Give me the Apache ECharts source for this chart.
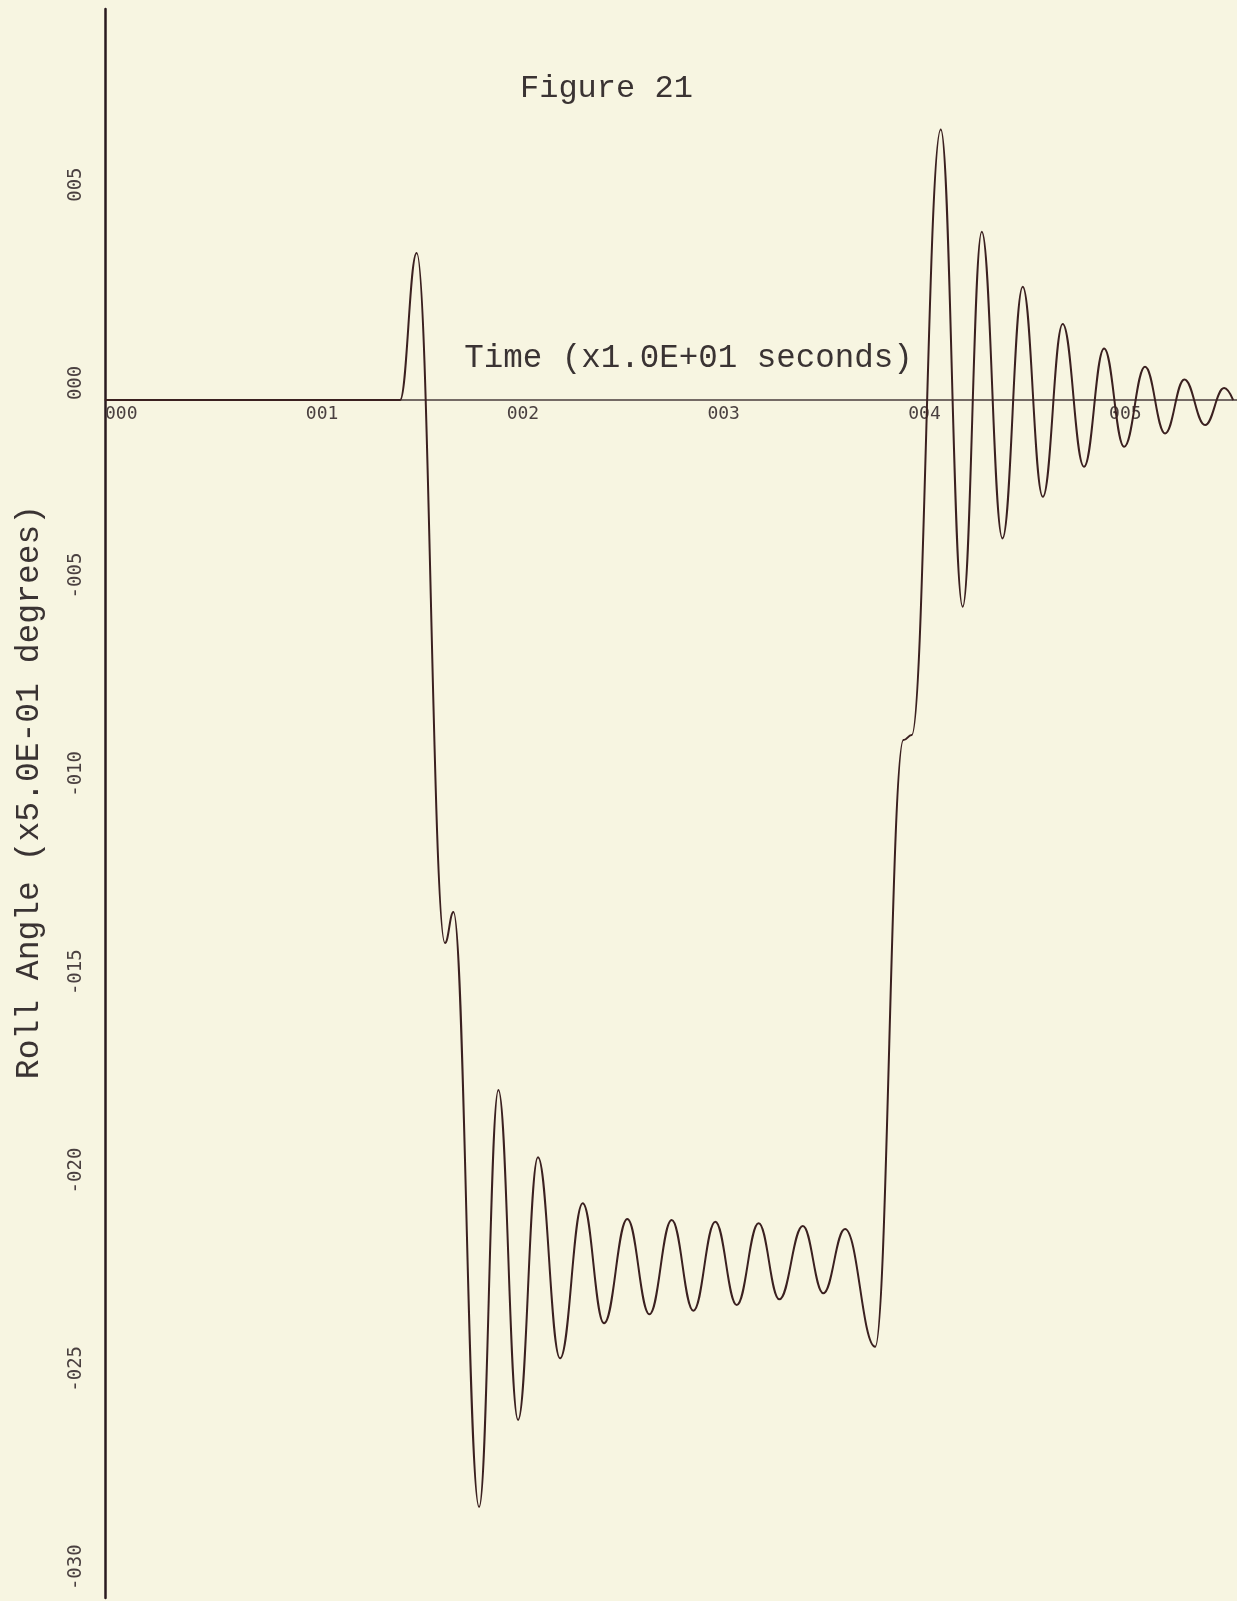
<!DOCTYPE html>
<html>
<head>
<meta charset="utf-8">
<title>Figure 21</title>
<script src="https://cdn.jsdelivr.net/npm/echarts@6/dist/echarts.min.js"></script>
<style>
html, body { margin: 0; padding: 0; background: #f7f5e1; }
#main { width: 1237px; height: 1601px; }
</style>
</head>
<body>
<div id="main"></div>
<script>
// turning points of the trace
// time, x1.0E+01 seconds
var timeVals = [
    0, 0.971, 1.469, 1.552, 1.693, 1.735, 1.863, 1.959,
    2.057, 2.156, 2.266, 2.379, 2.485, 2.601, 2.711, 2.822, 2.930, 3.039,
    3.146, 3.255, 3.358, 3.475, 3.577, 3.685, 3.835,
    3.976, 4.017,
    4.162, 4.271, 4.366, 4.469, 4.570, 4.670, 4.769, 4.875, 4.975, 5.075,
    5.179, 5.279, 5.375, 5.478, 5.573, 5.618
];
// roll angle, x5.0E-01 degrees
var rollVals = [
    0, 0, 0, 3.706, -13.688, -12.907, -27.905, -17.394,
    -25.712, -19.090, -24.157, -20.250, -23.275, -20.645, -23.048, -20.671, -22.957, -20.713,
    -22.813, -20.754, -22.670, -20.822, -22.518, -20.898, -23.865,
    -8.571, -8.445,
    6.824, -5.210, 4.243, -3.486, 2.856, -2.438, 1.916, -1.681, 1.303, -1.177,
    0.839, -0.839, 0.522, -0.630, 0.302, 0
];

var xMin = 0, xMax = 5.637;
var yMin = -30.2, yMax = 9.86;

var gridTop = 9, gridBottom = 3;
var gridH = 1601 - gridTop - gridBottom;
// the time axis is drawn across the plot at roll = 0
var zeroOffset = -gridH * yMax / (yMax - yMin);

// plotter style tick codes: 000, 001, -005 ...
function code3(v, step) {
    var n = Math.round(v);
    if (Math.abs(v - n) > 1e-6 || n % step !== 0) return '';
    return (n < 0 ? '-' : '') + String(Math.abs(n)).padStart(3, '0');
}

var myChart = echarts.init(document.getElementById('main'));

var option = {
    animation: false,
    backgroundColor: '#f7f5e1',
    title: {
        text: 'Figure 21',
        left: 520,
        top: 73,
        padding: 0,
        textStyle: {
            fontFamily: 'Liberation Mono',
            fontSize: 32,
            fontWeight: 'normal',
            color: '#3a3333'
        }
    },
    grid: {
        left: 105,
        right: 0,
        top: gridTop,
        bottom: gridBottom,
        outerBoundsMode: 'none'
    },
    xAxis: {
        type: 'value',
        position: 'top',
        offset: zeroOffset,
        min: xMin,
        max: xMax,
        interval: 1,
        name: 'Time (x1.0E+01 seconds)',
        nameLocation: 'middle',
        nameGap: 42,
        nameTextStyle: {
            fontFamily: 'Liberation Mono',
            fontSize: 32.5,
            color: '#3a3333',
            align: 'center',
            verticalAlign: 'middle',
            padding: [0, 0, 0, 35]
        },
        axisLine: { onZero: false, lineStyle: { color: '#4a3d3d', width: 1.5 } },
        axisTick: { show: false },
        splitLine: { show: false },
        axisLabel: {
            inside: true,
            margin: 5,
            align: 'left',
            verticalAlign: 'top',
            fontFamily: 'DejaVu Sans Mono',
            fontSize: 18,
            color: '#4a4040',
            formatter: function (v) { return code3(v, 1); }
        }
    },
    yAxis: {
        type: 'value',
        min: yMin,
        max: yMax,
        splitNumber: 8,
        name: 'Roll Angle (x5.0E-01 degrees)',
        nameLocation: 'middle',
        nameRotate: 90,
        nameGap: 76,
        nameTextStyle: {
            fontFamily: 'Liberation Mono',
            fontSize: 33,
            color: '#3a3333',
            align: 'center',
            verticalAlign: 'middle',
            padding: [0, 0, 0, 23]
        },
        axisLine: { lineStyle: { color: '#2a1a1f', width: 2.5 } },
        axisTick: { show: false },
        splitLine: { show: false },
        axisLabel: {
            rotate: 90,
            margin: 29,
            align: 'left',
            verticalAlign: 'middle',
            fontFamily: 'DejaVu Sans Mono',
            fontSize: 19,
            color: '#4a4040',
            formatter: function (v) { return code3(v, 5); }
        }
    },
    series: [{
        type: 'line',
        showSymbol: false,
        smooth: 0.42,
        smoothMonotone: 'x',
        lineStyle: { color: '#3b2020', width: 2 },
        data: timeVals.map(function (t, i) { return [t, rollVals[i]]; })
    }]
};
myChart.setOption(option);
</script>
</body>
</html>
